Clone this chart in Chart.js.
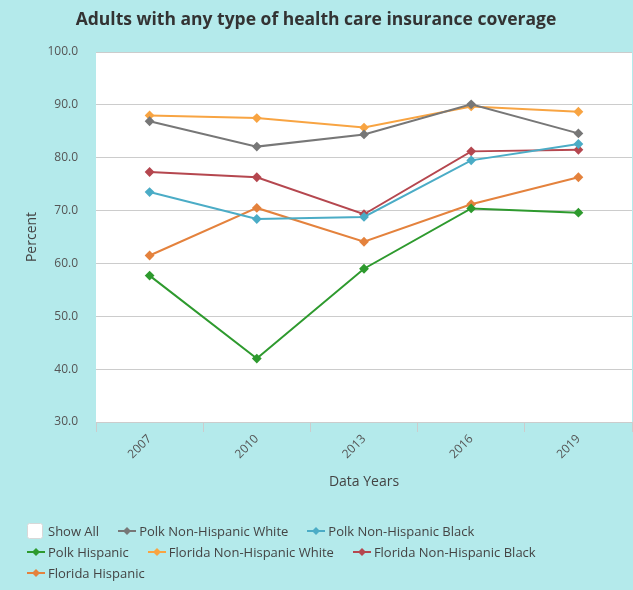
<!DOCTYPE html>
<html>
<head>
<meta charset="utf-8">
<script src="https://cdn.jsdelivr.net/npm/chart.js@4/dist/chart.umd.min.js"></script>
<style>
    body { margin: 0; }
    #wrap { position: relative; width: 633px; height: 590px; background: #b4eaeb; }
    #chart { position: absolute; left: 0; top: 0; }
    #legend { position: absolute; left: 27px; top: 520px; width: 540px; font: 13px "Open Sans", sans-serif; color: #444; }
    #legend ul { list-style: none; margin: 0; padding: 0; display: flex; flex-wrap: wrap; }
    #legend li { display: flex; align-items: center; height: 21px; margin-right: 19px; cursor: pointer; }
    #legend li.off span { text-decoration: line-through; }
    #legend canvas { margin-right: 3px; }
</style>
</head>
<body>
<div id="wrap">
    <canvas id="chart" width="633" height="590"></canvas>
    <div id="legend"></div>
</div>
<script>
const years = ['2007', '2010', '2013', '2016', '2019'];
const seriesNames = ['Polk Non-Hispanic White', 'Polk Non-Hispanic Black', 'Polk Hispanic',
    'Florida Non-Hispanic White', 'Florida Non-Hispanic Black', 'Florida Hispanic'];
const polkWhite = [86.9, 82.1, 84.4, 90.1, 84.6];
const polkBlack = [73.5, 68.4, 68.8, 79.5, 82.6];
const polkHispanic = [57.7, 42.0, 59.0, 70.4, 69.6];
const floridaWhite = [88.0, 87.5, 85.7, 89.7, 88.7];
const floridaBlack = [77.3, 76.3, 69.3, 81.2, 81.5];
const floridaHispanic = [61.5, 70.5, 64.1, 71.2, 76.3];
const yTicks = [30, 40, 50, 60, 70, 80, 90, 100];

const colors = ['#777777', '#4bacc6', '#2e9a2e', '#f8a442', '#b5474f', '#e4823d'];
const values = [polkWhite, polkBlack, polkHispanic, floridaWhite, floridaBlack, floridaHispanic];

const FONT = '"Open Sans", sans-serif';

const plotBackground = {
    id: 'plotBackground',
    beforeDraw(chart) {
        const {ctx, chartArea} = chart;
        ctx.save();
        ctx.fillStyle = '#ffffff';
        ctx.fillRect(chartArea.left, chartArea.top, chartArea.right - chartArea.left, chartArea.bottom - chartArea.top);
        ctx.restore();
    }
};

// small line + diamond swatch for the legend
function markerIcon(color) {
    const c = document.createElement('canvas');
    c.width = 18; c.height = 10;
    const g = c.getContext('2d');
    g.strokeStyle = color;
    g.lineWidth = 2;
    g.beginPath(); g.moveTo(0, 5); g.lineTo(18, 5); g.stroke();
    g.fillStyle = color;
    g.beginPath(); g.moveTo(9, 1); g.lineTo(13, 5); g.lineTo(9, 9); g.lineTo(5, 5); g.closePath(); g.fill();
    return c;
}

function showAllIcon() {
    const c = document.createElement('canvas');
    c.width = 18; c.height = 16;
    const g = c.getContext('2d');
    g.fillStyle = '#ffffff';
    g.strokeStyle = '#d8d8d8';
    g.beginPath();
    g.roundRect(0.5, 0.5, 15, 15, 2);
    g.fill(); g.stroke();
    return c;
}

const htmlLegend = {
    id: 'htmlLegend',
    afterUpdate(chart) {
        const box = document.getElementById('legend');
        box.innerHTML = '';
        const ul = document.createElement('ul');

        const all = document.createElement('li');
        all.appendChild(showAllIcon());
        const allText = document.createElement('span');
        allText.textContent = 'Show All';
        all.appendChild(allText);
        all.onclick = () => {
            chart.data.datasets.forEach((d, i) => chart.setDatasetVisibility(i, true));
            chart.update();
        };
        ul.appendChild(all);

        chart.data.datasets.forEach((ds, i) => {
            const li = document.createElement('li');
            if (!chart.isDatasetVisible(i)) li.className = 'off';
            li.appendChild(markerIcon(ds.borderColor));
            const t = document.createElement('span');
            t.textContent = ds.label;
            li.appendChild(t);
            li.onclick = () => {
                chart.setDatasetVisibility(i, !chart.isDatasetVisible(i));
                chart.update();
            };
            ul.appendChild(li);
        });
        box.appendChild(ul);
    }
};

const datasets = seriesNames.map((name, i) => ({
    label: name,
    data: values[i],
    borderColor: colors[i],
    backgroundColor: colors[i],
    borderWidth: 2,
    pointStyle: 'rectRot',
    pointRadius: 3.5,
    pointHoverRadius: 5,
    tension: 0
}));

new Chart(document.getElementById('chart'), {
    type: 'line',
    data: { labels: years, datasets: datasets },
    plugins: [plotBackground, htmlLegend],
    options: {
        responsive: false,
        animation: false,
        layout: { autoPadding: false, padding: { left: 0, right: 1, top: 0, bottom: 92 } },
        plugins: {
            legend: { display: false },
            title: {
                display: true,
                text: 'Adults with any type of health care insurance coverage',
                color: '#333',
                font: { family: FONT, size: 17.5, weight: 'bold' },
                padding: { top: 10, bottom: 21 }
            }
        },
        scales: {
            x: {
                offset: true,
                grid: { offset: true, drawOnChartArea: false, color: '#cccccc', tickLength: 10 },
                border: { color: '#cccccc' },
                ticks: { color: '#555', font: { family: FONT, size: 12 }, minRotation: 45, maxRotation: 45, padding: 0 },
                title: { display: true, text: 'Data Years', color: '#444', font: { family: FONT, size: 14 }, padding: { top: 4, bottom: 8 } },
                afterFit(scale) {
                    scale.height = 76;
                    scale.paddingLeft = 0;
                    scale.paddingRight = 0;
                }
            },
            y: {
                min: 30,
                max: 100,
                afterBuildTicks(scale) { scale.ticks = yTicks.map(v => ({ value: v })); },
                grid: { color: '#cccccc', drawTicks: false },
                border: { display: false },
                ticks: { color: '#555', font: { family: FONT, size: 12 }, padding: 18, callback: v => v.toFixed(1) },
                title: { display: true, text: 'Percent', color: '#444', font: { family: FONT, size: 14 }, padding: { top: 24 } },
                afterFit(scale) { scale.width = 96; }
            }
        }
    }
});
</script>
</body>
</html>
